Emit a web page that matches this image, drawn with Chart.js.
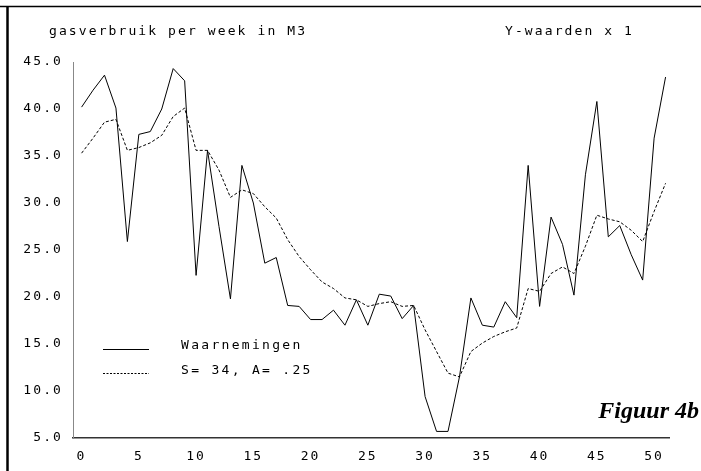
<!DOCTYPE html>
<html>
<head>
<meta charset="utf-8">
<script src="https://cdn.jsdelivr.net/npm/chart.js@4"></script>
<style>
  html, body { margin: 0; padding: 0; background: #fff; }
  #wrap { width: 701px; height: 471px; position: relative; }
</style>
</head>
<body>
<div id="wrap"><canvas id="gasChart" width="701" height="471"></canvas></div>
<script>
// weeknummers
const weeks = [
  0, 1, 2, 3, 4, 5, 6, 7, 8, 9, 10, 11, 12, 13, 14, 15, 16, 17, 18, 19, 20, 21, 22, 23, 24, 25,
  26, 27, 28, 29, 30, 31, 32, 33, 34, 35, 36, 37, 38, 39, 40, 41, 42, 43, 44, 45, 46, 47, 48, 49, 50, 51,
]

// gemeten verbruik (Waarnemingen)
const waarnemingen = [
  40.2, 42.0, 43.6, 40.1, 25.9, 37.3, 37.6, 40.0, 44.3, 43.0, 22.3, 35.6, 27.5, 19.8, 34.0, 30.0,
  23.6, 24.2, 19.1, 19.0, 17.6, 17.6, 18.6, 17.0, 19.7, 17.0, 20.3, 20.1, 17.7, 19.1, 9.4, 5.7,
  5.7, 11.5, 19.9, 17.0, 16.8, 19.5, 17.8, 34.0, 19.0, 28.5, 25.6, 20.2, 33.0, 40.8, 26.4, 27.6,
  24.5, 21.8, 36.9, 43.4,
]

// afgevlakte reeks (S= 34, A= .25)
const afgevlakt = [
  35.3, 36.9, 38.6, 38.9, 35.6, 35.9, 36.4, 37.2, 39.2, 40.1, 35.6, 35.6, 33.5, 30.6, 31.4, 31.0,
  29.6, 28.4, 26.1, 24.3, 22.9, 21.6, 20.9, 19.9, 19.7, 19.0, 19.3, 19.5, 19.0, 19.1, 16.5, 14.2,
  11.9, 11.5, 14.2, 15.1, 15.8, 16.3, 16.7, 20.9, 20.6, 22.5, 23.2, 22.5, 25.4, 28.7, 28.3, 28.0,
  27.1, 25.9, 29.1, 32.1,
]

const xTicks = [0, 5, 10, 15, 20, 25, 30, 35, 40, 45, 50]
const legendLabels = ['Waarnemingen', 'S= 34, A= .25']
const titleLeft = 'gasverbruik per week in M3'
const titleRight = 'Y-waarden x 1'
const figLabel = 'Figuur 4b'

const monoFont = '13px "DejaVu Sans Mono"'

// teksten, legenda en kader tekenen
const decorPlugin = {
  id: 'decor',
  beforeDraw(chart) {
    chart.ctx.letterSpacing = '2.1px'
  },
  afterDraw(chart) {
    const ctx = chart.ctx
    ctx.save()
    // kader
    ctx.strokeStyle = '#000'
    ctx.lineWidth = 2.5
    ctx.beginPath()
    ctx.moveTo(7.5, 7)
    ctx.lineTo(7.5, 471)
    ctx.stroke()
    ctx.lineWidth = 1.5
    ctx.beginPath()
    ctx.moveTo(0, 6.5)
    ctx.lineTo(701, 6.5)
    ctx.stroke()

    ctx.fillStyle = '#000'
    ctx.font = monoFont
    ctx.letterSpacing = '2.1px'
    ctx.textBaseline = 'middle'
    ctx.textAlign = 'left'
    ctx.fillText(titleLeft, 49, 32)
    ctx.fillText(titleRight, 505, 32)

    // legenda
    ctx.lineWidth = 1
    ctx.beginPath()
    ctx.moveTo(103, 349.5)
    ctx.lineTo(149, 349.5)
    ctx.stroke()
    ctx.setLineDash([2, 1.5])
    ctx.beginPath()
    ctx.moveTo(103, 373.5)
    ctx.lineTo(149, 373.5)
    ctx.stroke()
    ctx.setLineDash([])
    ctx.letterSpacing = '2.3px'
    ctx.fillText(legendLabels[0], 181, 346)
    ctx.fillText(legendLabels[1], 181, 371)

    ctx.letterSpacing = '0px'
    ctx.font = 'italic bold 24px "Liberation Serif"'
    ctx.textAlign = 'right'
    ctx.fillText(figLabel, 699, 412)
    ctx.restore()
  },
}

const ctx = document.getElementById('gasChart').getContext('2d')

window.gasChartInstance = new Chart(ctx, {
  type: 'line',
  data: {
    datasets: [
      {
        label: legendLabels[0],
        data: weeks.map((w, i) => ({ x: w, y: waarnemingen[i] })),
        borderColor: '#000',
        borderWidth: 1,
        pointRadius: 0,
        tension: 0,
      },
      {
        label: legendLabels[1],
        data: weeks.map((w, i) => ({ x: w, y: afgevlakt[i] })),
        borderColor: '#000',
        borderWidth: 1,
        borderDash: [3, 2],
        pointRadius: 0,
        tension: 0,
      },
    ],
  },
  options: {
    responsive: false,
    animation: false,
    clip: false,
    layout: { padding: { top: 62, right: 32, left: 0, bottom: 0 } },
    plugins: {
      legend: { display: false },
      tooltip: { enabled: false },
    },
    scales: {
      x: {
        type: 'linear',
        min: -0.75,
        max: 51.3,
        grid: { display: false, drawTicks: false },
        border: { display: true, color: '#333', width: 1.5 },
        afterBuildTicks: (scale) => {
          scale.ticks = xTicks.map((v) => ({ value: v }))
        },
        afterFit: (scale) => {
          scale.height = 33
        },
        ticks: {
          color: '#000',
          font: { family: 'DejaVu Sans Mono', size: 13 },
          padding: 11,
          maxRotation: 0,
          autoSkip: false,
          callback: (v) => String(v),
        },
      },
      y: {
        min: 5,
        max: 45,
        grid: { display: false, drawTicks: false },
        border: { display: true, color: '#888', width: 1 },
        afterFit: (scale) => {
          scale.width = 73
        },
        ticks: {
          stepSize: 5,
          color: '#000',
          font: { family: 'DejaVu Sans Mono', size: 13 },
          padding: 10,
          callback: (v) => v.toFixed(1),
        },
      },
    },
  },
  plugins: [decorPlugin],
})
</script>
</body>
</html>
